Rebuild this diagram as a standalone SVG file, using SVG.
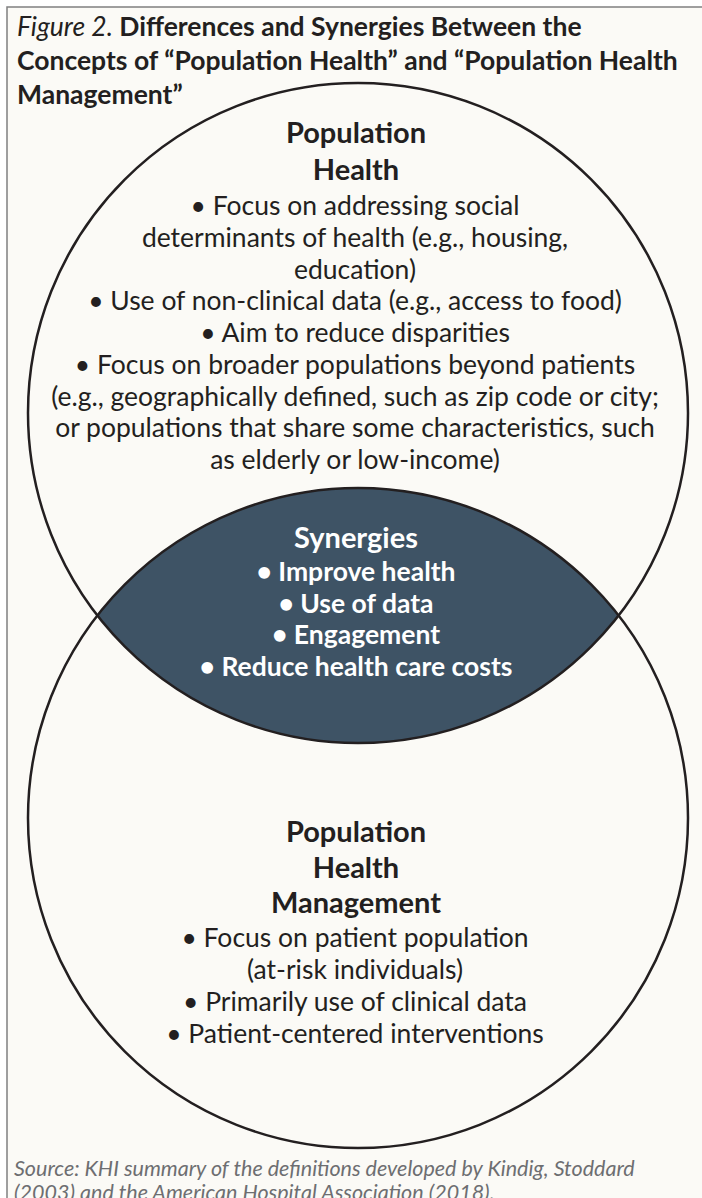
<svg xmlns="http://www.w3.org/2000/svg" width="702" height="1198" viewBox="0 0 702 1198">
<style>
text{font-family:Lato,"Liberation Sans",sans-serif;fill:#231f20;text-anchor:middle}
.title{font-size:26.5px;font-weight:bold;text-anchor:start}
.it{font-style:italic;font-weight:normal}
.head{font-size:29px;font-weight:bold}
.body{font-size:26.5px}
.syn{fill:#ffffff;font-weight:bold;font-size:26.5px}
.synh{fill:#ffffff;font-weight:bold;font-size:29px}
.src{font-size:21.5px;font-style:italic;fill:#6d6e71;text-anchor:start}
.circ{fill:none;stroke:#231f20;stroke-width:2.5}
</style>
<rect x="7" y="7" width="710" height="1210" fill="#fbfaf6" stroke="#808080" stroke-width="1.5"/>
<g id="title">
<text class="title" x="17" y="36"><tspan class="it">Figure 2.</tspan> Differences and Synergies Between the</text>
<text class="title" x="17" y="70">Concepts of “Population Health” and “Population Health</text>
<text class="title" x="17" y="104">Management”</text>
</g>
<g id="synergies">
<path d="M97.4 615.5 A330 330 0 0 1 618.6 615.5 A330 330 0 0 1 97.4 615.5 Z" fill="#3e5365"/>
<text class="synh" x="356" y="548">Synergies</text>
<text class="syn" x="356" y="581">• Improve health</text>
<text class="syn" x="356" y="613">• Use of data</text>
<text class="syn" x="356" y="644">• Engagement</text>
<text class="syn" x="356" y="676">• Reduce health care costs</text>
</g>
<g id="population-health">
<circle class="circ" cx="358" cy="413" r="330"/>
<text class="head" x="356" y="143">Population</text>
<text class="head" x="356" y="180">Health</text>
<text class="body" x="355" y="215">• Focus on addressing social</text>
<text class="body" x="355" y="247">determinants of health (e.g., housing,</text>
<text class="body" x="355" y="279">education)</text>
<text class="body" x="355" y="310">• Use of non-clinical data (e.g., access to food)</text>
<text class="body" x="355" y="342">• Aim to reduce disparities</text>
<text class="body" x="355" y="374">• Focus on broader populations beyond patients</text>
<text class="body" x="355" y="406">(e.g., geographically defined, such as zip code or city;</text>
<text class="body" x="355" y="437">or populations that share some characteristics, such</text>
<text class="body" x="355" y="469">as elderly or low-income)</text>
</g>
<g id="population-health-management">
<circle class="circ" cx="358" cy="818" r="330"/>
<text class="head" x="356" y="842">Population</text>
<text class="head" x="356" y="878">Health</text>
<text class="head" x="356" y="913">Management</text>
<text class="body" x="355" y="947">• Focus on patient population</text>
<text class="body" x="355" y="979">(at-risk individuals)</text>
<text class="body" x="355" y="1011">• Primarily use of clinical data</text>
<text class="body" x="355" y="1043">• Patient-centered interventions</text>
</g>
<g id="connectors"></g>
<g id="source">
<text class="src" x="14" y="1176">Source: KHI summary of the definitions developed by Kindig, Stoddard</text>
<text class="src" x="14" y="1200">(2003) and the American Hospital Association (2018).</text>
</g>
</svg>
